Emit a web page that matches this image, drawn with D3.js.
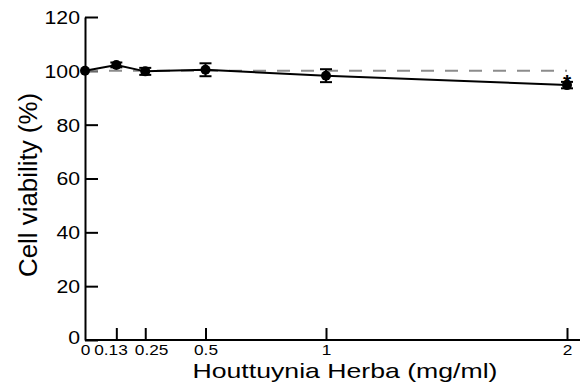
<!DOCTYPE html>
<html>
<head>
<meta charset="utf-8">
<script src="https://d3js.org/d3.v7.min.js"></script>
<style>
body { margin: 0; background: #fff; }
svg text { font-family: "Liberation Sans", Arial, sans-serif; fill: #000; }
</style>
</head>
<body>
<div id="chart"></div>
<script>
// doses (mg/ml) and viability readings
var doses = [0, 0.13, 0.25, 0.5, 1, 2];
var doseLabels = ["0", "0.13", "0.25", "0.5", "1", "2"];
var viability = [100, 102.2, 99.8, 100.4, 98.2, 94.7];
var errors = [0, 0.9, 1.3, 2.4, 2.4, 1.2];
var significant = [false, false, false, false, false, true];
var yTicks = [0, 20, 40, 60, 80, 100, 120];
var controlLevel = 100;

var width = 584, height = 385,
	margins = {"top": 17, "bottom": 45, "left": 85, "right": 17};

var svg = d3.select("#chart")
	.append("svg")
	.attr("width", width)
	.attr("height", height)

// the original's lettering is a little wider than Arial
function stretch(sel, k) {
	sel.each(function() {
		var w = this.getComputedTextLength();
		d3.select(this).attr("textLength", w * k).attr("lengthAdjust", "spacingAndGlyphs");
	});
}

var xScale = d3.scaleLinear()
	.domain([0, 2])
	.range([margins.left, width - margins.right])

var yScale = d3.scaleLinear()
	.domain([0, 120])
	.range([height - margins.bottom, margins.top])

// y axis, ticks pointing into the plot
var yAxis = svg.append("g")
	.attr("transform", "translate(" + margins.left + ",0)")
	.call(d3.axisRight(yScale).tickValues(yTicks).tickSizeInner(13).tickSizeOuter(0).tickFormat(d3.format("d")))
yAxis.attr("font-size", null).attr("font-family", null)
yAxis.select(".domain").attr("stroke-width", 2)
yAxis.selectAll(".tick line").attr("stroke-width", 2)
yAxis.selectAll(".tick text")
	.attr("x", -5)
	.attr("dy", "0.36em")
	.attr("text-anchor", "end")
	.attr("font-size", 18)
	.call(stretch, 1.18)
yAxis.selectAll(".tick").filter(function(d) { return d === 0; }).select("text")
	.attr("dy", "0.2em")

// x axis, ticks pointing up
var xAxis = svg.append("g")
	.attr("transform", "translate(0," + (height - margins.bottom) + ")")
	.call(d3.axisTop(xScale).tickValues(doses).tickSizeInner(12).tickSizeOuter(0)
		.tickFormat(function(d, i) { return doseLabels[i]; }))
xAxis.attr("font-size", null).attr("font-family", null)
xAxis.select(".domain")
	.attr("stroke-width", 2)
	.attr("d", "M" + xScale(0) + ",0H" + (xScale(2) + 13))
xAxis.selectAll(".tick line").attr("stroke-width", 2)
xAxis.selectAll(".tick").filter(function(d) { return d === 0; }).select("line").remove()
var xLabels = xAxis.selectAll(".tick text")
	.attr("y", 15)
	.attr("dy", "0em")
	.attr("font-size", 15)
	.call(stretch, 1.15)

// push crowded dose labels apart
var boxes = [];
xLabels.each(function(d) {
	var w = +d3.select(this).attr("textLength");
	boxes.push({el: this, c: xScale(d), w: w, dx: 0});
});
for (var i = 1; i < boxes.length; i++) {
	var a = boxes[i - 1], b = boxes[i];
	var gap = (b.c + b.dx - b.w / 2) - (a.c + a.dx + a.w / 2);
	if (gap < 7) {
		var push = (7 - gap) / 2;
		a.dx -= push;
		b.dx += push;
	}
}
boxes.forEach(function(b) { d3.select(b.el).attr("x", b.dx); });

// control reference line
svg.append("line")
	.attr("x1", xScale(0))
	.attr("x2", xScale(2))
	.attr("y1", yScale(controlLevel))
	.attr("y2", yScale(controlLevel))
	.attr("stroke", "#8c8c8c")
	.attr("stroke-width", 2)
	.attr("stroke-dasharray", "13,11")

var pts = doses.map(function(d, i) { return {x: d, y: viability[i], e: errors[i], sig: significant[i]}; });

svg.append("path")
	.datum(pts)
	.attr("fill", "none")
	.attr("stroke", "#000")
	.attr("stroke-width", 2)
	.attr("d", d3.line().x(function(d) { return xScale(d.x); }).y(function(d) { return yScale(d.y); }))

var bars = svg.selectAll("g.err")
	.data(pts.filter(function(d) { return d.e > 0; }))
	.enter()
	.append("g")
	.attr("class", "err")
	.attr("stroke", "#000")
	.attr("stroke-width", 2)
bars.append("line")
	.attr("x1", function(d) { return xScale(d.x); })
	.attr("x2", function(d) { return xScale(d.x); })
	.attr("y1", function(d) { return yScale(d.y - d.e); })
	.attr("y2", function(d) { return yScale(d.y + d.e); })
bars.selectAll("line.cap")
	.data(function(d) { return [d.y - d.e, d.y + d.e].map(function(v) { return {x: d.x, v: v}; }); })
	.enter()
	.append("line")
	.attr("class", "cap")
	.attr("x1", function(d) { return xScale(d.x) - 6; })
	.attr("x2", function(d) { return xScale(d.x) + 6; })
	.attr("y1", function(d) { return yScale(d.v); })
	.attr("y2", function(d) { return yScale(d.v); })

svg.selectAll("circle.pt")
	.data(pts)
	.enter()
	.append("circle")
	.attr("class", "pt")
	.attr("cx", function(d) { return xScale(d.x); })
	.attr("cy", function(d) { return yScale(d.y); })
	.attr("r", 5)
	.attr("fill", "#000")

svg.selectAll("text.sig")
	.data(pts.filter(function(d) { return d.sig; }))
	.enter()
	.append("text")
	.attr("class", "sig")
	.attr("x", function(d) { return xScale(d.x); })
	.attr("y", function(d) { return yScale(d.y + d.e) + 7; })
	.attr("text-anchor", "middle")
	.attr("font-size", 21)
	.attr("font-weight", "bold")
	.style("fill", "#000")
	.text("*")

var xTitle = svg.append("text")
	.attr("x", 345)
	.attr("y", 378)
	.attr("text-anchor", "middle")
	.attr("font-size", 21)
	.text("Houttuynia Herba (mg/ml)")
	.attr("textLength", 305)
	.attr("lengthAdjust", "spacingAndGlyphs")

svg.append("text")
	.attr("transform", "translate(37,185) rotate(-90)")
	.attr("text-anchor", "middle")
	.attr("font-size", 25)
	.text("Cell viability (%)")
	.attr("textLength", 184)
	.attr("lengthAdjust", "spacingAndGlyphs")
</script>
</body>
</html>
